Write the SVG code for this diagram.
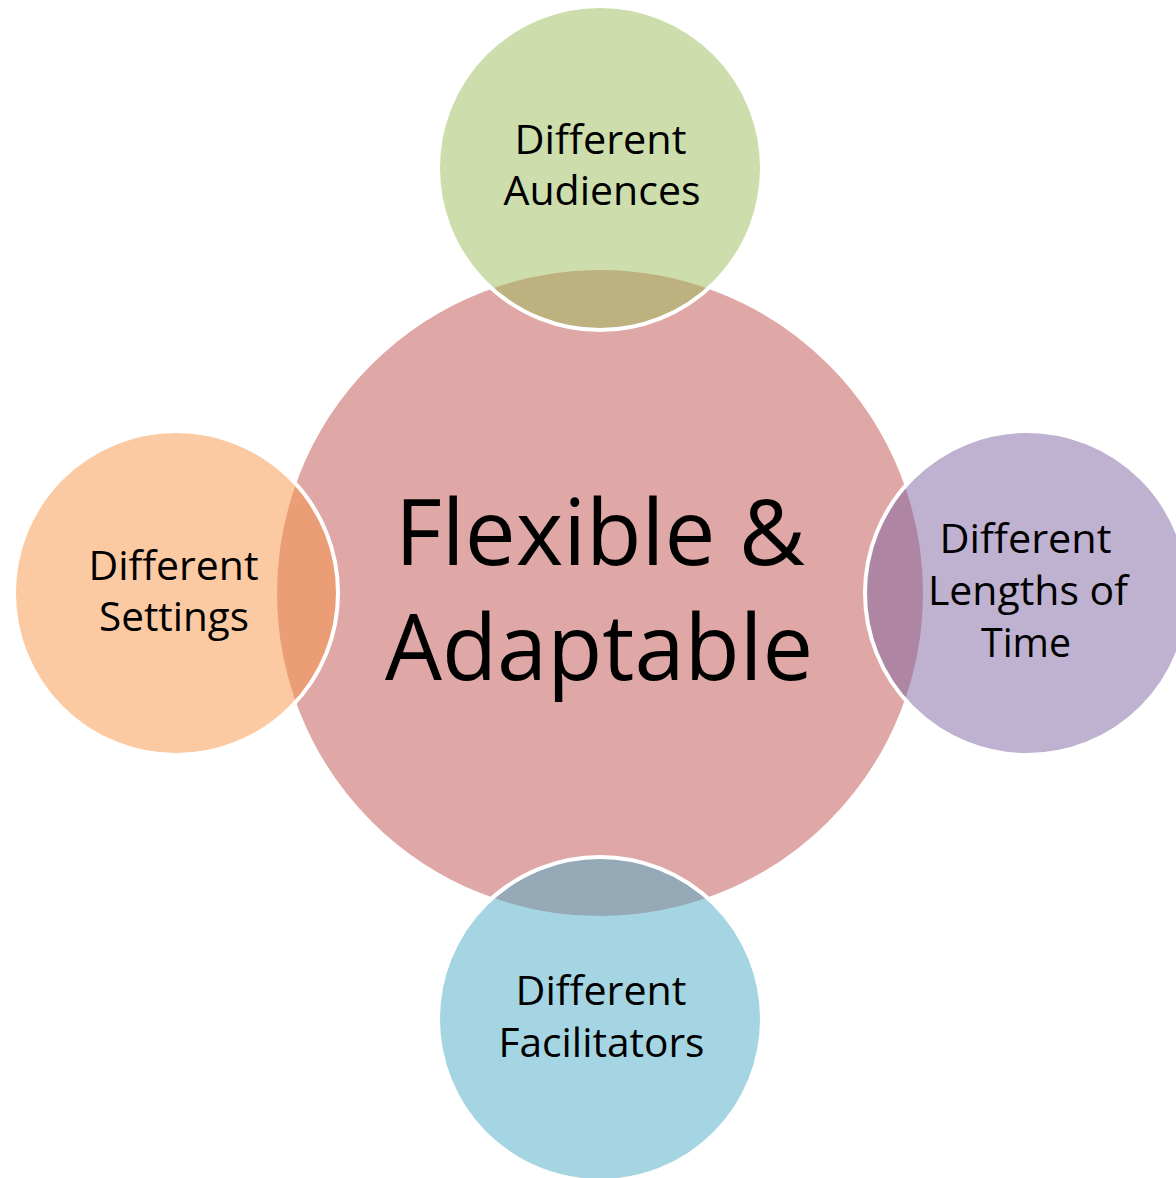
<svg xmlns="http://www.w3.org/2000/svg" width="1176" height="1178" viewBox="0 0 1176 1178">
<style>
.c{stroke:#FFFFFF;stroke-width:4;fill-opacity:0.5}
.t{font-family:"Open Sans","Liberation Sans",sans-serif;fill:#000000;text-anchor:middle}
.s{font-size:41px}
.b{font-size:92px}
</style>
<rect width="1176" height="1178" fill="#FFFFFF"/>
<g id="center">
<circle class="c" cx="600" cy="593" r="325" fill="#C0504D"/>
<text class="t b" x="600" y="565" textLength="410" lengthAdjust="spacingAndGlyphs">Flexible &amp;</text>
<text class="t b" x="599" y="680" textLength="428" lengthAdjust="spacingAndGlyphs">Adaptable</text>
</g>
<g id="top">
<circle class="c" cx="600" cy="168" r="162" fill="#9BBB59"/>
<text class="t s" x="600.5" y="154" textLength="172" lengthAdjust="spacingAndGlyphs">Different</text>
<text class="t s" x="602" y="205" textLength="197" lengthAdjust="spacingAndGlyphs">Audiences</text>
</g>
<g id="left">
<circle class="c" cx="176" cy="593" r="162" fill="#F79646"/>
<text class="t s" x="173.5" y="580" textLength="170" lengthAdjust="spacingAndGlyphs">Different</text>
<text class="t s" x="174" y="631" textLength="150" lengthAdjust="spacingAndGlyphs">Settings</text>
</g>
<g id="right">
<circle class="c" cx="1027" cy="593" r="162" fill="#8064A2"/>
<text class="t s" x="1025.5" y="553" textLength="172" lengthAdjust="spacingAndGlyphs">Different</text>
<text class="t s" x="1028" y="605" textLength="200" lengthAdjust="spacingAndGlyphs">Lengths of</text>
<text class="t s" x="1026" y="657" textLength="90" lengthAdjust="spacingAndGlyphs">Time</text>
</g>
<g id="bottom">
<circle class="c" cx="600" cy="1019" r="162" fill="#4BACC6"/>
<text class="t s" x="601" y="1005" textLength="171" lengthAdjust="spacingAndGlyphs">Different</text>
<text class="t s" x="601.5" y="1057" textLength="206" lengthAdjust="spacingAndGlyphs">Facilitators</text>
</g>
<g id="connectors"></g>
</svg>
